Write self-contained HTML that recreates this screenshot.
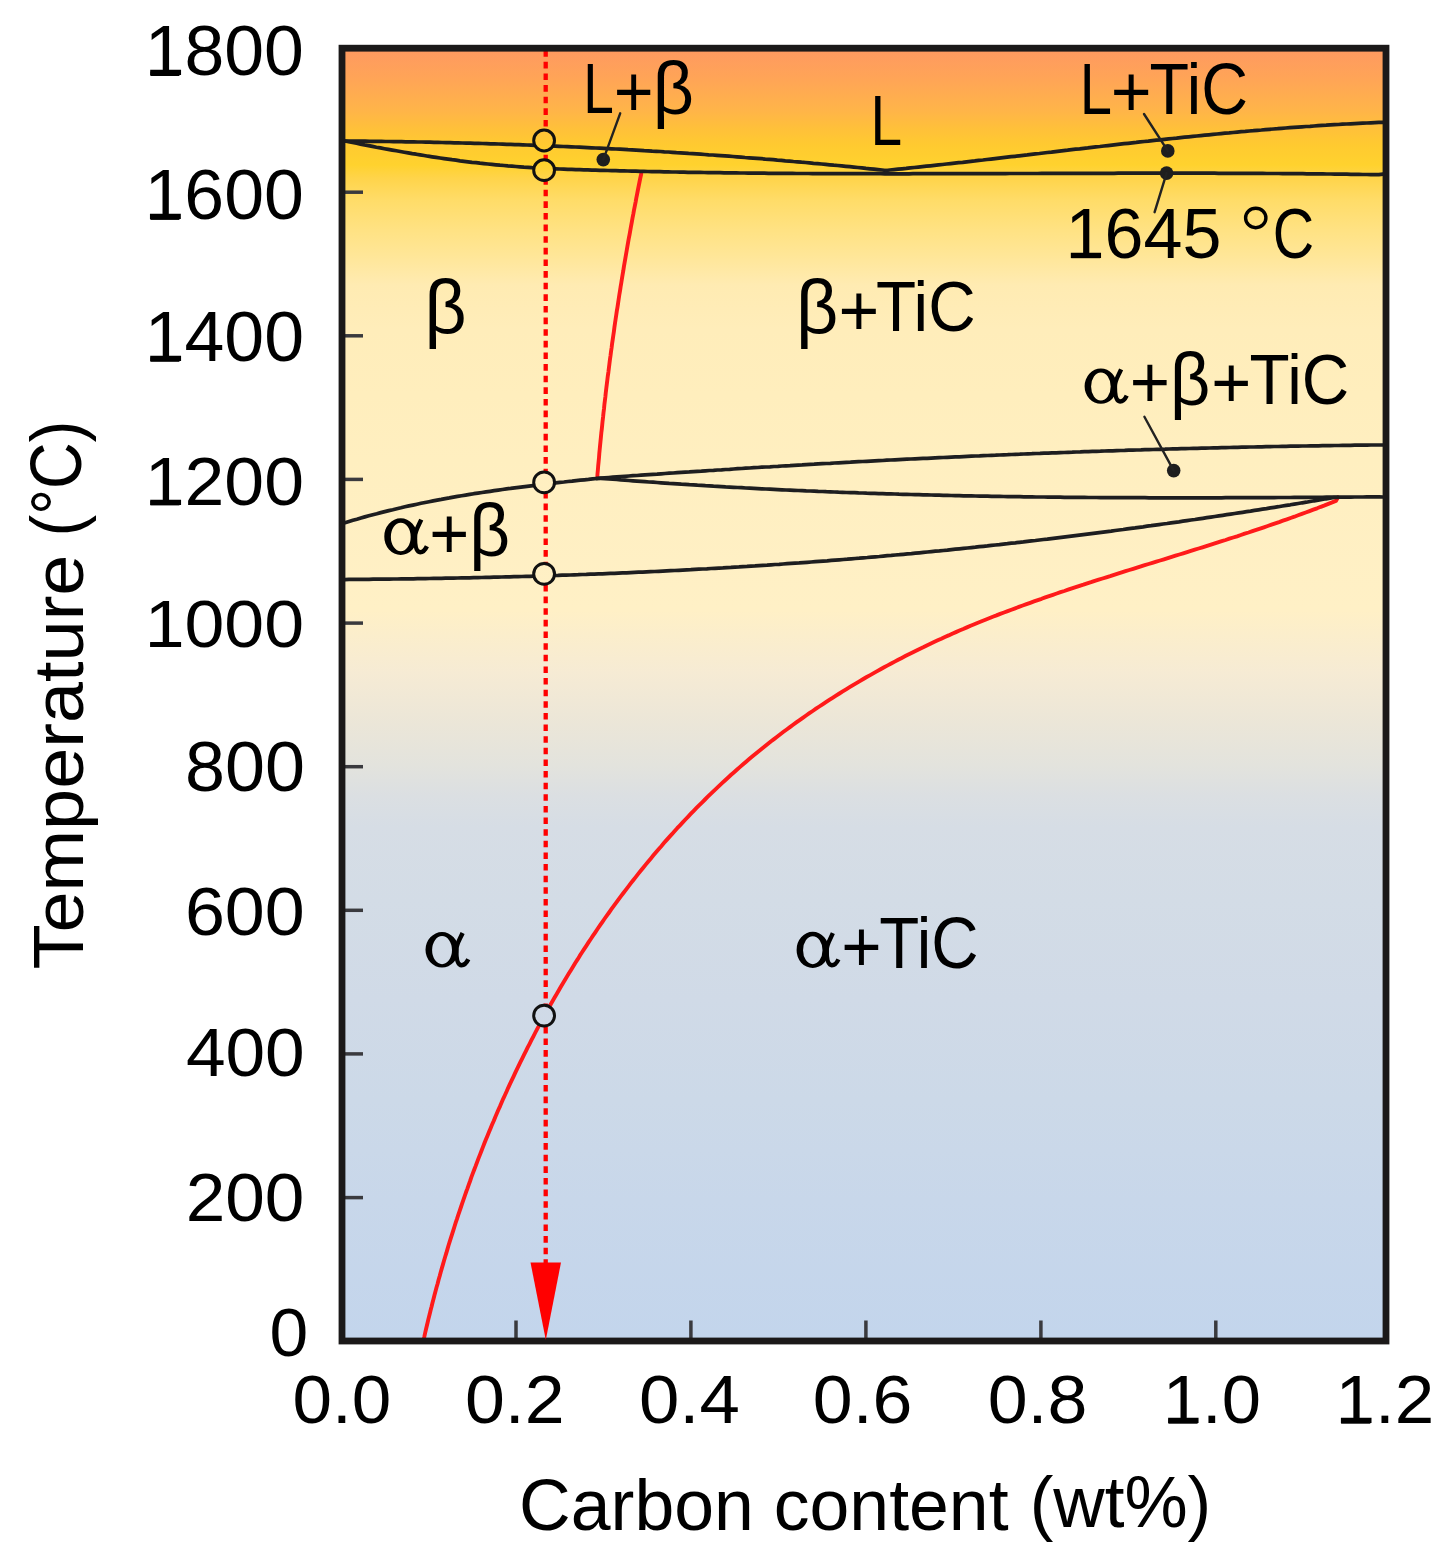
<!DOCTYPE html><html><head><meta charset="utf-8"><style>html,body{margin:0;padding:0;background:#fff;overflow:hidden}svg{display:block}</style></head><body>
<svg width="1447" height="1556" viewBox="0 0 1447 1556" font-family="Liberation Sans, sans-serif">
<defs><linearGradient id="bg" gradientUnits="userSpaceOnUse" x1="0" y1="51" x2="0" y2="1337">
<stop offset="0.0000" stop-color="#FE9A60"/>
<stop offset="0.0226" stop-color="#FFA556"/>
<stop offset="0.0459" stop-color="#FFB449"/>
<stop offset="0.0599" stop-color="#FFC03A"/>
<stop offset="0.0731" stop-color="#FFCA30"/>
<stop offset="0.0886" stop-color="#FFD22E"/>
<stop offset="0.0988" stop-color="#FFD44A"/>
<stop offset="0.1159" stop-color="#FFDC68"/>
<stop offset="0.1392" stop-color="#FFE283"/>
<stop offset="0.1586" stop-color="#FFE697"/>
<stop offset="0.1820" stop-color="#FFEBB2"/>
<stop offset="0.2170" stop-color="#FFEDBA"/>
<stop offset="0.3180" stop-color="#FFEFC0"/>
<stop offset="0.4347" stop-color="#FFF0C6"/>
<stop offset="0.4829" stop-color="#F6EBD4"/>
<stop offset="0.5233" stop-color="#EBE6D8"/>
<stop offset="0.5552" stop-color="#E3E3DD"/>
<stop offset="0.5793" stop-color="#DBDFE2"/>
<stop offset="0.6034" stop-color="#D6DDE5"/>
<stop offset="0.6602" stop-color="#D3DCE6"/>
<stop offset="0.7379" stop-color="#D0DAE7"/>
<stop offset="0.8157" stop-color="#CCD9E8"/>
<stop offset="0.8935" stop-color="#C8D7EA"/>
<stop offset="1.0000" stop-color="#C3D5EC"/>
</linearGradient><clipPath id="plotclip"><rect x="345" y="51" width="1038" height="1287"/></clipPath></defs>
<rect x="344" y="50" width="1040" height="1289" fill="url(#bg)"/>
<path d="M421.2,1345.0 L423.4,1340.7 L424.3,1336.9 L425.1,1333.1 L426.0,1329.3 L426.9,1325.5 L427.8,1321.7 L428.7,1317.9 L429.7,1314.1 L430.6,1310.3 L431.6,1306.5 L432.5,1302.7 L433.5,1298.9 L434.5,1295.1 L435.5,1291.3 L436.5,1287.5 L437.6,1283.7 L438.6,1279.8 L439.7,1276.0 L440.7,1272.2 L441.8,1268.4 L442.9,1264.6 L444.0,1260.8 L445.1,1257.0 L446.3,1253.2 L447.4,1249.4 L448.5,1245.5 L449.7,1241.7 L450.9,1237.9 L452.1,1234.1 L453.3,1230.3 L454.5,1226.5 L455.7,1222.7 L457.0,1218.9 L458.2,1215.1 L459.5,1211.3 L460.8,1207.5 L462.1,1203.7 L463.4,1199.9 L464.7,1196.1 L466.0,1192.3 L467.4,1188.6 L468.7,1184.8 L470.1,1181.0 L471.4,1177.2 L472.8,1173.4 L474.2,1169.7 L475.7,1165.9 L477.1,1162.1 L478.5,1158.4 L480.0,1154.6 L481.5,1150.8 L482.9,1147.1 L484.4,1143.3 L485.9,1139.6 L487.5,1135.8 L489.0,1132.1 L490.5,1128.4 L492.1,1124.6 L493.7,1120.9 L495.2,1117.2 L496.8,1113.5 L498.4,1109.8 L500.1,1106.1 L501.7,1102.3 L503.3,1098.6 L505.0,1095.0 L506.7,1091.3 L508.3,1087.6 L510.0,1083.9 L511.8,1080.2 L513.5,1076.6 L515.2,1072.9 L517.0,1069.2 L518.7,1065.6 L520.5,1061.9 L522.3,1058.3 L524.1,1054.7 L525.9,1051.1 L527.7,1047.4 L529.6,1043.8 L531.4,1040.2 L533.3,1036.6 L535.1,1033.0 L537.0,1029.4 L538.9,1025.9 L540.9,1022.3 L542.8,1018.7 L544.7,1015.2 L546.7,1011.6 L548.7,1008.1 L550.6,1004.5 L552.6,1001.0 L554.6,997.5 L556.7,994.0 L558.7,990.5 L560.7,987.0 L562.8,983.5 L564.9,980.0 L567.0,976.6 L569.1,973.1 L571.2,969.7 L573.3,966.2 L575.4,962.8 L577.6,959.4 L579.7,955.9 L581.9,952.5 L584.1,949.1 L586.3,945.8 L588.5,942.4 L590.8,939.0 L593.0,935.7 L595.3,932.3 L597.5,929.0 L599.8,925.7 L602.1,922.3 L604.4,919.0 L606.8,915.7 L609.1,912.5 L611.4,909.2 L613.8,905.9 L616.2,902.7 L618.6,899.4 L621.0,896.2 L623.4,893.0 L625.8,889.8 L628.3,886.6 L630.7,883.4 L633.2,880.2 L635.7,877.1 L638.2,873.9 L640.7,870.8 L643.2,867.7 L645.7,864.6 L648.3,861.5 L650.9,858.4 L653.4,855.3 L656.0,852.2 L658.6,849.2 L661.3,846.2 L663.9,843.1 L666.5,840.1 L669.2,837.1 L671.9,834.2 L674.5,831.2 L677.2,828.2 L680.0,825.3 L682.7,822.4 L685.4,819.5 L688.2,816.6 L690.9,813.7 L693.7,810.8 L696.5,807.9 L699.3,805.1 L702.2,802.3 L705.0,799.5 L707.8,796.7 L710.7,793.9 L713.6,791.1 L716.5,788.4 L719.4,785.6 L722.3,782.9 L725.2,780.2 L728.2,777.5 L731.1,774.8 L734.1,772.2 L737.1,769.5 L740.1,766.9 L743.1,764.3 L746.1,761.7 L749.2,759.1 L752.2,756.6 L755.3,754.0 L758.4,751.5 L761.5,749.0 L764.6,746.5 L767.7,744.0 L770.8,741.5 L774.0,739.1 L777.1,736.7 L780.3,734.2 L783.5,731.8 L786.7,729.5 L789.9,727.1 L793.1,724.7 L796.3,722.4 L799.6,720.1 L802.8,717.8 L806.1,715.5 L809.4,713.2 L812.7,711.0 L816.0,708.7 L819.3,706.5 L822.6,704.3 L825.9,702.1 L829.3,699.9 L832.6,697.8 L836.0,695.6 L839.4,693.5 L842.7,691.4 L846.1,689.3 L849.6,687.2 L853.0,685.1 L856.4,683.1 L859.8,681.1 L863.3,679.0 L866.7,677.0 L870.2,675.1 L873.7,673.1 L877.2,671.1 L880.6,669.2 L884.1,667.3 L887.7,665.4 L891.2,663.5 L894.7,661.6 L898.2,659.7 L901.8,657.9 L905.3,656.1 L908.9,654.3 L912.5,652.5 L916.0,650.7 L919.6,648.9 L923.2,647.2 L926.8,645.4 L930.4,643.7 L934.0,642.0 L937.7,640.3 L941.3,638.7 L944.9,637.0 L948.6,635.4 L952.2,633.7 L955.9,632.1 L959.5,630.5 L963.2,629.0 L966.9,627.4 L970.6,625.8 L974.3,624.3 L977.9,622.8 L981.6,621.3 L985.4,619.8 L989.1,618.3 L992.8,616.8 L996.5,615.4 L1000.2,613.9 L1004.0,612.5 L1007.7,611.1 L1011.4,609.7 L1015.2,608.3 L1018.9,606.9 L1022.7,605.5 L1026.5,604.1 L1030.2,602.8 L1034.0,601.4 L1037.8,600.1 L1041.6,598.8 L1045.3,597.4 L1049.1,596.1 L1052.9,594.8 L1056.7,593.5 L1060.5,592.2 L1064.3,591.0 L1068.1,589.7 L1071.9,588.4 L1075.7,587.2 L1079.6,585.9 L1083.4,584.7 L1087.2,583.4 L1091.0,582.2 L1094.8,580.9 L1098.7,579.7 L1102.5,578.5 L1106.3,577.3 L1110.2,576.1 L1114.0,574.8 L1117.8,573.6 L1121.7,572.4 L1125.5,571.2 L1129.3,570.0 L1133.2,568.8 L1137.0,567.6 L1140.9,566.4 L1144.7,565.2 L1148.6,564.0 L1152.4,562.9 L1156.3,561.7 L1160.1,560.5 L1164.0,559.3 L1167.8,558.1 L1171.7,556.9 L1175.5,555.7 L1179.4,554.5 L1183.2,553.3 L1187.1,552.1 L1190.9,550.9 L1194.8,549.7 L1198.6,548.5 L1202.5,547.3 L1206.3,546.1 L1210.2,544.9 L1214.0,543.7 L1217.9,542.4 L1221.7,541.2 L1225.6,540.0 L1229.4,538.7 L1233.2,537.5 L1237.1,536.3 L1240.9,535.0 L1244.7,533.7 L1248.6,532.5 L1252.4,531.2 L1256.2,529.9 L1260.1,528.6 L1263.9,527.3 L1267.7,526.0 L1271.5,524.7 L1275.3,523.4 L1279.1,522.1 L1282.9,520.7 L1286.8,519.4 L1290.6,518.0 L1294.4,516.7 L1298.1,515.3 L1301.9,513.9 L1305.7,512.5 L1309.5,511.1 L1313.3,509.7 L1317.1,508.3 L1320.8,506.8 L1324.6,505.4 L1328.4,503.9 L1332.1,502.4 L1335.9,500.9 L1338.0,497.3" fill="none" stroke="#ff1a1a" stroke-width="3.9" stroke-linecap="round" stroke-linejoin="round" clip-path="url(#plotclip)"/>
<path d="M641.2,174.0 L640.3,178.0 L639.5,182.0 L638.7,186.0 L637.9,190.0 L637.1,194.1 L636.3,198.1 L635.6,202.1 L634.8,206.1 L634.0,210.2 L633.3,214.2 L632.5,218.2 L631.8,222.2 L631.0,226.3 L630.3,230.3 L629.6,234.3 L628.8,238.4 L628.1,242.4 L627.4,246.4 L626.7,250.5 L626.0,254.5 L625.3,258.6 L624.6,262.6 L623.9,266.6 L623.3,270.7 L622.6,274.7 L621.9,278.8 L621.3,282.8 L620.6,286.9 L620.0,290.9 L619.3,295.0 L618.7,299.0 L618.1,303.1 L617.5,307.1 L616.8,311.2 L616.2,315.2 L615.6,319.3 L615.0,323.3 L614.4,327.4 L613.9,331.4 L613.3,335.5 L612.7,339.6 L612.1,343.6 L611.6,347.7 L611.0,351.7 L610.5,355.8 L609.9,359.9 L609.4,363.9 L608.9,368.0 L608.4,372.1 L607.8,376.1 L607.3,380.2 L606.8,384.3 L606.3,388.3 L605.8,392.4 L605.4,396.5 L604.9,400.5 L604.4,404.6 L604.0,408.7 L603.5,412.7 L603.1,416.8 L602.6,420.9 L602.2,425.0 L601.8,429.0 L601.3,433.1 L600.9,437.2 L600.5,441.3 L600.1,445.3 L599.7,449.4 L599.3,453.5 L599.0,457.6 L598.6,461.7 L598.2,465.7 L597.9,469.8 L597.5,473.9 L597.3,478.0" fill="none" stroke="#ff1a1a" stroke-width="3.9" stroke-linecap="round" stroke-linejoin="round"/>
<path d="M345.0,141.0 L349.0,141.1 L353.1,141.1 L357.1,141.2 L361.2,141.2 L365.2,141.2 L369.3,141.3 L373.3,141.3 L377.4,141.4 L381.4,141.4 L385.4,141.5 L389.5,141.5 L393.5,141.6 L397.6,141.6 L401.6,141.7 L405.7,141.8 L409.7,141.8 L413.8,141.9 L417.8,142.0 L421.9,142.0 L425.9,142.1 L429.9,142.2 L434.0,142.3 L438.0,142.4 L442.1,142.5 L446.1,142.6 L450.2,142.7 L454.2,142.8 L458.2,142.9 L462.3,143.0 L466.3,143.1 L470.4,143.2 L474.4,143.3 L478.5,143.4 L482.5,143.5 L486.6,143.6 L490.6,143.8 L494.6,143.9 L498.7,144.0 L502.7,144.1 L506.8,144.3 L510.8,144.4 L514.9,144.6 L518.9,144.7 L522.9,144.8 L527.0,145.0 L531.0,145.1 L535.1,145.3 L539.1,145.5 L543.1,145.6 L547.2,145.8 L551.2,145.9 L555.3,146.1 L559.3,146.3 L563.4,146.5 L567.4,146.6 L571.4,146.8 L575.5,147.0 L579.5,147.2 L583.6,147.4 L587.6,147.6 L591.6,147.8 L595.7,148.0 L599.7,148.2 L603.8,148.4 L607.8,148.6 L611.8,148.8 L615.9,149.0 L619.9,149.2 L624.0,149.4 L628.0,149.7 L632.0,149.9 L636.1,150.1 L640.1,150.3 L644.1,150.6 L648.2,150.8 L652.2,151.1 L656.3,151.3 L660.3,151.5 L664.3,151.8 L668.4,152.0 L672.4,152.3 L676.4,152.6 L680.5,152.8 L684.5,153.1 L688.6,153.4 L692.6,153.6 L696.6,153.9 L700.7,154.2 L704.7,154.5 L708.7,154.8 L712.8,155.0 L716.8,155.3 L720.8,155.6 L724.9,155.9 L728.9,156.2 L732.9,156.5 L737.0,156.8 L741.0,157.1 L745.0,157.5 L749.1,157.8 L753.1,158.1 L757.1,158.4 L761.2,158.7 L765.2,159.1 L769.2,159.4 L773.3,159.7 L777.3,160.1 L781.3,160.4 L785.3,160.8 L789.4,161.1 L793.4,161.5 L797.4,161.8 L801.5,162.2 L805.5,162.5 L809.5,162.9 L813.5,163.3 L817.6,163.6 L821.6,164.0 L825.6,164.4 L829.7,164.8 L833.7,165.2 L837.7,165.5 L841.7,165.9 L845.8,166.3 L849.8,166.7 L853.8,167.1 L857.8,167.5 L861.9,167.9 L865.9,168.4 L869.9,168.8 L873.9,169.2 L878.0,169.6 L882.0,170.0 L886.0,170.5" fill="none" stroke="#1e1e20" stroke-width="3.7" stroke-linecap="round" stroke-linejoin="round"/>
<path d="M886.0,170.5 L890.0,170.0 L894.1,169.6 L898.1,169.2 L902.2,168.8 L906.2,168.4 L910.2,167.9 L914.3,167.5 L918.3,167.1 L922.3,166.7 L926.4,166.2 L930.4,165.8 L934.4,165.4 L938.5,164.9 L942.5,164.5 L946.6,164.0 L950.6,163.6 L954.6,163.2 L958.7,162.7 L962.7,162.3 L966.7,161.8 L970.8,161.3 L974.8,160.9 L978.8,160.4 L982.9,160.0 L986.9,159.5 L990.9,159.1 L995.0,158.6 L999.0,158.1 L1003.0,157.7 L1007.1,157.2 L1011.1,156.7 L1015.1,156.3 L1019.2,155.8 L1023.2,155.3 L1027.3,154.9 L1031.3,154.4 L1035.3,153.9 L1039.4,153.5 L1043.4,153.0 L1047.4,152.5 L1051.5,152.1 L1055.5,151.6 L1059.5,151.1 L1063.6,150.6 L1067.6,150.2 L1071.6,149.7 L1075.7,149.2 L1079.7,148.8 L1083.7,148.3 L1087.8,147.9 L1091.8,147.4 L1095.8,146.9 L1099.9,146.5 L1103.9,146.0 L1107.9,145.6 L1112.0,145.1 L1116.0,144.6 L1120.0,144.2 L1124.1,143.7 L1128.1,143.3 L1132.2,142.8 L1136.2,142.4 L1140.2,141.9 L1144.3,141.5 L1148.3,141.1 L1152.3,140.6 L1156.4,140.2 L1160.4,139.8 L1164.4,139.3 L1168.5,138.9 L1172.5,138.5 L1176.6,138.1 L1180.6,137.6 L1184.6,137.2 L1188.7,136.8 L1192.7,136.4 L1196.8,136.0 L1200.8,135.6 L1204.8,135.2 L1208.9,134.8 L1212.9,134.4 L1217.0,134.0 L1221.0,133.6 L1225.0,133.2 L1229.1,132.9 L1233.1,132.5 L1237.2,132.1 L1241.2,131.7 L1245.3,131.4 L1249.3,131.0 L1253.3,130.7 L1257.4,130.3 L1261.4,130.0 L1265.5,129.6 L1269.5,129.3 L1273.6,129.0 L1277.6,128.7 L1281.7,128.3 L1285.7,128.0 L1289.8,127.7 L1293.8,127.4 L1297.9,127.1 L1301.9,126.8 L1306.0,126.5 L1310.0,126.3 L1314.1,126.0 L1318.1,125.7 L1322.2,125.4 L1326.2,125.2 L1330.3,124.9 L1334.3,124.7 L1338.4,124.5 L1342.4,124.2 L1346.5,124.0 L1350.5,123.8 L1354.6,123.6 L1358.6,123.4 L1362.7,123.2 L1366.8,123.0 L1370.8,122.8 L1374.9,122.6 L1378.9,122.4 L1383.0,122.3" fill="none" stroke="#1e1e20" stroke-width="3.7" stroke-linecap="round" stroke-linejoin="round"/>
<path d="M345.0,141.0 L348.6,141.7 L352.6,142.5 L356.6,143.3 L360.5,144.1 L364.5,144.9 L368.5,145.6 L372.4,146.4 L376.4,147.2 L380.4,147.9 L384.4,148.7 L388.3,149.4 L392.3,150.1 L396.3,150.8 L400.3,151.5 L404.3,152.2 L408.2,152.9 L412.2,153.6 L416.2,154.2 L420.2,154.9 L424.1,155.5 L428.1,156.2 L432.1,156.8 L436.1,157.4 L440.1,158.0 L444.1,158.6 L448.0,159.1 L452.0,159.7 L456.0,160.2 L460.0,160.8 L464.0,161.3 L468.0,161.8 L472.0,162.3 L476.0,162.7 L479.9,163.2 L483.9,163.6 L487.9,164.0 L491.9,164.4 L495.9,164.8 L499.9,165.2 L503.9,165.5 L507.9,165.9 L511.9,166.2 L515.9,166.5 L519.9,166.8 L523.9,167.1 L527.9,167.3 L531.8,167.6 L535.8,167.8 L539.8,168.0 L543.8,168.2 L547.8,168.4 L551.8,168.6 L555.8,168.8 L559.8,169.0 L563.8,169.1 L567.8,169.3 L571.8,169.4 L575.8,169.6 L579.8,169.7 L583.8,169.8 L587.8,169.9 L591.8,170.1 L595.8,170.2 L599.8,170.3 L603.9,170.4 L607.9,170.5 L611.9,170.6 L615.9,170.7 L619.9,170.8 L623.9,170.9 L627.9,171.0 L631.9,171.1 L635.9,171.2 L639.9,171.3 L643.9,171.4 L647.9,171.5 L651.9,171.6 L655.9,171.7 L659.9,171.7 L664.0,171.8 L668.0,171.9 L672.0,172.0 L676.0,172.0 L680.0,172.1 L684.0,172.2 L688.0,172.3 L692.0,172.3 L696.0,172.4 L700.1,172.4 L704.1,172.5 L708.1,172.6 L712.1,172.6 L716.1,172.7 L720.1,172.7 L724.1,172.8 L728.2,172.8 L732.2,172.9 L736.2,172.9 L740.2,173.0 L744.2,173.0 L748.2,173.1 L752.2,173.1 L756.3,173.2 L760.3,173.2 L764.3,173.2 L768.3,173.3 L772.3,173.3 L776.3,173.3 L780.4,173.4 L784.4,173.4 L788.4,173.4 L792.4,173.4 L796.4,173.5 L800.5,173.5 L804.5,173.5 L808.5,173.5 L812.5,173.6 L816.5,173.6 L820.6,173.6 L824.6,173.6 L828.6,173.6 L832.6,173.6 L836.6,173.7 L840.6,173.7 L844.7,173.7 L848.7,173.7 L852.7,173.7 L856.7,173.7 L860.8,173.7 L864.8,173.7 L868.8,173.7 L872.8,173.7 L876.8,173.7 L880.9,173.7 L884.9,173.8 L888.9,173.8 L892.9,173.8 L896.9,173.8 L901.0,173.8 L905.0,173.8 L909.0,173.8 L913.0,173.7 L917.1,173.7 L921.1,173.7 L925.1,173.7 L929.1,173.7 L933.1,173.7 L937.2,173.7 L941.2,173.7 L945.2,173.7 L949.2,173.7 L953.3,173.7 L957.3,173.7 L961.3,173.7 L965.3,173.7 L969.3,173.7 L973.4,173.6 L977.4,173.6 L981.4,173.6 L985.4,173.6 L989.5,173.6 L993.5,173.6 L997.5,173.6 L1001.5,173.6 L1005.5,173.6 L1009.6,173.5 L1013.6,173.5 L1017.6,173.5 L1021.6,173.5 L1025.7,173.5 L1029.7,173.5 L1033.7,173.5 L1037.7,173.5 L1041.7,173.4 L1045.8,173.4 L1049.8,173.4 L1053.8,173.4 L1057.8,173.4 L1061.9,173.4 L1065.9,173.4 L1069.9,173.4 L1073.9,173.4 L1077.9,173.3 L1082.0,173.3 L1086.0,173.3 L1090.0,173.3 L1094.0,173.3 L1098.0,173.3 L1102.1,173.3 L1106.1,173.3 L1110.1,173.3 L1114.1,173.3 L1118.1,173.2 L1122.2,173.2 L1126.2,173.2 L1130.2,173.2 L1134.2,173.2 L1138.2,173.2 L1142.2,173.2 L1146.3,173.2 L1150.3,173.2 L1154.3,173.2 L1158.3,173.2 L1162.3,173.2 L1166.3,173.2 L1170.4,173.2 L1174.4,173.2 L1178.4,173.2 L1182.4,173.2 L1186.4,173.2 L1190.4,173.2 L1194.5,173.2 L1198.5,173.2 L1202.5,173.2 L1206.5,173.2 L1210.5,173.2 L1214.5,173.2 L1218.5,173.3 L1222.6,173.3 L1226.6,173.3 L1230.6,173.3 L1234.6,173.3 L1238.6,173.3 L1242.6,173.3 L1246.6,173.4 L1250.6,173.4 L1254.7,173.4 L1258.7,173.4 L1262.7,173.4 L1266.7,173.5 L1270.7,173.5 L1274.7,173.5 L1278.7,173.5 L1282.7,173.6 L1286.7,173.6 L1290.7,173.6 L1294.7,173.7 L1298.7,173.7 L1302.8,173.7 L1306.8,173.8 L1310.8,173.8 L1314.8,173.9 L1318.8,173.9 L1322.8,173.9 L1326.8,174.0 L1330.8,174.0 L1334.8,174.1 L1338.8,174.1 L1342.8,174.2 L1346.8,174.2 L1350.8,174.3 L1354.8,174.3 L1358.8,174.4 L1362.8,174.5 L1366.8,174.5 L1370.8,174.6 L1374.8,174.7 L1378.8,174.7 L1383.0,174.2" fill="none" stroke="#1e1e20" stroke-width="3.7" stroke-linecap="round" stroke-linejoin="round"/>
<path d="M345.0,522.7 L349.0,521.5 L352.9,520.3 L356.9,519.2 L360.9,518.0 L364.8,516.9 L368.8,515.8 L372.8,514.7 L376.8,513.7 L380.8,512.6 L384.8,511.6 L388.8,510.6 L392.8,509.7 L396.8,508.7 L400.9,507.8 L404.9,506.8 L408.9,505.9 L412.9,505.1 L417.0,504.2 L421.0,503.3 L425.1,502.5 L429.1,501.7 L433.2,500.9 L437.2,500.1 L441.3,499.4 L445.3,498.6 L449.4,497.9 L453.4,497.1 L457.5,496.4 L461.6,495.7 L465.6,495.1 L469.7,494.4 L473.8,493.7 L477.9,493.1 L482.0,492.5 L486.0,491.9 L490.1,491.3 L494.2,490.7 L498.3,490.1 L502.4,489.5 L506.5,488.9 L510.6,488.4 L514.7,487.8 L518.8,487.3 L522.9,486.8 L527.0,486.3 L531.0,485.8 L535.1,485.3 L539.2,484.8 L543.4,484.3 L547.5,483.8 L551.6,483.3 L555.7,482.9 L559.8,482.4 L563.9,482.0 L568.0,481.5 L572.1,481.1 L576.2,480.6 L580.3,480.2 L584.4,479.8 L588.5,479.4 L592.6,478.9 L596.7,478.5" fill="none" stroke="#1e1e20" stroke-width="3.7" stroke-linecap="round" stroke-linejoin="round"/>
<path d="M596.7,478.5 L600.7,478.1 L604.7,477.8 L608.8,477.5 L612.8,477.2 L616.8,476.9 L620.8,476.6 L624.9,476.3 L628.9,476.0 L632.9,475.7 L637.0,475.5 L641.0,475.2 L645.0,474.9 L649.0,474.6 L653.1,474.3 L657.1,474.1 L661.1,473.8 L665.1,473.5 L669.2,473.2 L673.2,473.0 L677.2,472.7 L681.2,472.4 L685.3,472.1 L689.3,471.9 L693.3,471.6 L697.4,471.3 L701.4,471.1 L705.4,470.8 L709.4,470.5 L713.5,470.3 L717.5,470.0 L721.5,469.8 L725.6,469.5 L729.6,469.3 L733.6,469.0 L737.6,468.7 L741.7,468.5 L745.7,468.2 L749.7,468.0 L753.8,467.7 L757.8,467.5 L761.8,467.2 L765.8,467.0 L769.9,466.8 L773.9,466.5 L777.9,466.3 L782.0,466.0 L786.0,465.8 L790.0,465.6 L794.1,465.3 L798.1,465.1 L802.1,464.9 L806.1,464.6 L810.2,464.4 L814.2,464.2 L818.2,463.9 L822.3,463.7 L826.3,463.5 L830.3,463.3 L834.4,463.0 L838.4,462.8 L842.4,462.6 L846.4,462.4 L850.5,462.2 L854.5,461.9 L858.5,461.7 L862.6,461.5 L866.6,461.3 L870.6,461.1 L874.7,460.9 L878.7,460.7 L882.7,460.5 L886.8,460.2 L890.8,460.0 L894.8,459.8 L898.8,459.6 L902.9,459.4 L906.9,459.2 L910.9,459.0 L915.0,458.8 L919.0,458.6 L923.0,458.4 L927.1,458.3 L931.1,458.1 L935.1,457.9 L939.2,457.7 L943.2,457.5 L947.2,457.3 L951.3,457.1 L955.3,456.9 L959.3,456.8 L963.4,456.6 L967.4,456.4 L971.4,456.2 L975.5,456.0 L979.5,455.9 L983.5,455.7 L987.6,455.5 L991.6,455.3 L995.6,455.2 L999.7,455.0 L1003.7,454.8 L1007.7,454.7 L1011.8,454.5 L1015.8,454.3 L1019.8,454.2 L1023.9,454.0 L1027.9,453.8 L1031.9,453.7 L1036.0,453.5 L1040.0,453.4 L1044.0,453.2 L1048.1,453.1 L1052.1,452.9 L1056.1,452.8 L1060.2,452.6 L1064.2,452.5 L1068.2,452.3 L1072.3,452.2 L1076.3,452.0 L1080.3,451.9 L1084.4,451.7 L1088.4,451.6 L1092.4,451.4 L1096.5,451.3 L1100.5,451.2 L1104.5,451.0 L1108.6,450.9 L1112.6,450.8 L1116.6,450.6 L1120.7,450.5 L1124.7,450.4 L1128.7,450.2 L1132.8,450.1 L1136.8,450.0 L1140.9,449.9 L1144.9,449.7 L1148.9,449.6 L1153.0,449.5 L1157.0,449.4 L1161.0,449.3 L1165.1,449.2 L1169.1,449.0 L1173.1,448.9 L1177.2,448.8 L1181.2,448.7 L1185.2,448.6 L1189.3,448.5 L1193.3,448.4 L1197.3,448.3 L1201.4,448.2 L1205.4,448.1 L1209.5,448.0 L1213.5,447.9 L1217.5,447.8 L1221.6,447.7 L1225.6,447.6 L1229.6,447.5 L1233.7,447.4 L1237.7,447.3 L1241.7,447.2 L1245.8,447.1 L1249.8,447.0 L1253.8,447.0 L1257.9,446.9 L1261.9,446.8 L1265.9,446.7 L1270.0,446.6 L1274.0,446.5 L1278.1,446.5 L1282.1,446.4 L1286.1,446.3 L1290.2,446.2 L1294.2,446.2 L1298.2,446.1 L1302.3,446.0 L1306.3,446.0 L1310.3,445.9 L1314.4,445.8 L1318.4,445.8 L1322.5,445.7 L1326.5,445.6 L1330.5,445.6 L1334.6,445.5 L1338.6,445.5 L1342.6,445.4 L1346.7,445.3 L1350.7,445.3 L1354.7,445.2 L1358.8,445.2 L1362.8,445.1 L1366.9,445.1 L1370.9,445.0 L1374.9,445.0 L1379.0,445.0 L1383.0,445.0" fill="none" stroke="#1e1e20" stroke-width="3.7" stroke-linecap="round" stroke-linejoin="round"/>
<path d="M596.7,478.5 L600.7,478.3 L604.8,478.6 L608.8,478.9 L612.8,479.2 L616.8,479.5 L620.9,479.9 L624.9,480.2 L628.9,480.5 L632.9,480.8 L637.0,481.1 L641.0,481.4 L645.0,481.7 L649.0,482.0 L653.1,482.2 L657.1,482.5 L661.1,482.8 L665.1,483.1 L669.2,483.4 L673.2,483.6 L677.2,483.9 L681.3,484.2 L685.3,484.4 L689.3,484.7 L693.3,484.9 L697.4,485.2 L701.4,485.4 L705.4,485.7 L709.4,485.9 L713.5,486.2 L717.5,486.4 L721.5,486.6 L725.6,486.9 L729.6,487.1 L733.6,487.3 L737.6,487.5 L741.7,487.7 L745.7,488.0 L749.7,488.2 L753.8,488.4 L757.8,488.6 L761.8,488.8 L765.9,489.0 L769.9,489.2 L773.9,489.4 L777.9,489.6 L782.0,489.8 L786.0,490.0 L790.0,490.1 L794.1,490.3 L798.1,490.5 L802.1,490.7 L806.2,490.9 L810.2,491.0 L814.2,491.2 L818.2,491.4 L822.3,491.5 L826.3,491.7 L830.3,491.8 L834.4,492.0 L838.4,492.2 L842.4,492.3 L846.5,492.5 L850.5,492.6 L854.5,492.7 L858.6,492.9 L862.6,493.0 L866.6,493.2 L870.6,493.3 L874.7,493.4 L878.7,493.6 L882.7,493.7 L886.8,493.8 L890.8,493.9 L894.8,494.0 L898.9,494.2 L902.9,494.3 L906.9,494.4 L911.0,494.5 L915.0,494.6 L919.0,494.7 L923.1,494.8 L927.1,494.9 L931.1,495.0 L935.2,495.1 L939.2,495.2 L943.2,495.3 L947.3,495.4 L951.3,495.5 L955.3,495.6 L959.4,495.7 L963.4,495.8 L967.4,495.8 L971.5,495.9 L975.5,496.0 L979.5,496.1 L983.6,496.2 L987.6,496.2 L991.6,496.3 L995.7,496.4 L999.7,496.4 L1003.7,496.5 L1007.8,496.6 L1011.8,496.6 L1015.8,496.7 L1019.9,496.7 L1023.9,496.8 L1027.9,496.8 L1032.0,496.9 L1036.0,497.0 L1040.0,497.0 L1044.1,497.0 L1048.1,497.1 L1052.1,497.1 L1056.2,497.2 L1060.2,497.2 L1064.3,497.3 L1068.3,497.3 L1072.3,497.3 L1076.4,497.4 L1080.4,497.4 L1084.4,497.4 L1088.5,497.5 L1092.5,497.5 L1096.5,497.5 L1100.6,497.6 L1104.6,497.6 L1108.6,497.6 L1112.7,497.6 L1116.7,497.6 L1120.7,497.7 L1124.8,497.7 L1128.8,497.7 L1132.8,497.7 L1136.9,497.7 L1140.9,497.7 L1144.9,497.7 L1149.0,497.8 L1153.0,497.8 L1157.1,497.8 L1161.1,497.8 L1165.1,497.8 L1169.2,497.8 L1173.2,497.8 L1177.2,497.8 L1181.3,497.8 L1185.3,497.8 L1189.3,497.8 L1193.4,497.8 L1197.4,497.8 L1201.4,497.8 L1205.5,497.8 L1209.5,497.8 L1213.5,497.8 L1217.6,497.8 L1221.6,497.8 L1225.6,497.7 L1229.7,497.7 L1233.7,497.7 L1237.8,497.7 L1241.8,497.7 L1245.8,497.7 L1249.9,497.7 L1253.9,497.6 L1257.9,497.6 L1262.0,497.6 L1266.0,497.6 L1270.0,497.6 L1274.1,497.6 L1278.1,497.5 L1282.1,497.5 L1286.2,497.5 L1290.2,497.5 L1294.2,497.4 L1298.3,497.4 L1302.3,497.4 L1306.3,497.4 L1310.4,497.3 L1314.4,497.3 L1318.4,497.3 L1322.5,497.3 L1326.5,497.2 L1330.6,497.2 L1334.6,497.2 L1338.6,497.2 L1342.7,497.1 L1346.7,497.1 L1350.7,497.1 L1354.8,497.0 L1358.8,497.0 L1362.8,497.0 L1366.9,496.9 L1370.9,496.9 L1374.9,496.9 L1379.0,496.8 L1383.0,497.0" fill="none" stroke="#1e1e20" stroke-width="3.7" stroke-linecap="round" stroke-linejoin="round"/>
<path d="M345.0,579.6 L349.0,579.4 L353.0,579.4 L357.0,579.4 L361.1,579.3 L365.1,579.3 L369.1,579.3 L373.1,579.2 L377.2,579.2 L381.2,579.1 L385.2,579.1 L389.2,579.1 L393.3,579.0 L397.3,579.0 L401.3,578.9 L405.3,578.9 L409.3,578.8 L413.4,578.8 L417.4,578.7 L421.4,578.6 L425.4,578.6 L429.5,578.5 L433.5,578.4 L437.5,578.4 L441.5,578.3 L445.6,578.2 L449.6,578.2 L453.6,578.1 L457.6,578.0 L461.6,577.9 L465.7,577.9 L469.7,577.8 L473.7,577.7 L477.7,577.6 L481.8,577.5 L485.8,577.4 L489.8,577.3 L493.8,577.2 L497.8,577.1 L501.9,577.0 L505.9,576.9 L509.9,576.8 L513.9,576.7 L518.0,576.6 L522.0,576.5 L526.0,576.4 L530.0,576.3 L534.0,576.1 L538.1,576.0 L542.1,575.9 L546.1,575.8 L550.1,575.6 L554.1,575.5 L558.2,575.4 L562.2,575.2 L566.2,575.1 L570.2,575.0 L574.2,574.8 L578.3,574.7 L582.3,574.5 L586.3,574.4 L590.3,574.2 L594.3,574.1 L598.4,573.9 L602.4,573.8 L606.4,573.6 L610.4,573.4 L614.4,573.3 L618.5,573.1 L622.5,572.9 L626.5,572.8 L630.5,572.6 L634.5,572.4 L638.6,572.2 L642.6,572.1 L646.6,571.9 L650.6,571.7 L654.6,571.5 L658.6,571.3 L662.7,571.1 L666.7,570.9 L670.7,570.7 L674.7,570.5 L678.7,570.3 L682.7,570.1 L686.8,569.9 L690.8,569.7 L694.8,569.4 L698.8,569.2 L702.8,569.0 L706.8,568.8 L710.9,568.5 L714.9,568.3 L718.9,568.1 L722.9,567.9 L726.9,567.6 L730.9,567.4 L734.9,567.1 L739.0,566.9 L743.0,566.6 L747.0,566.4 L751.0,566.1 L755.0,565.9 L759.0,565.6 L763.0,565.3 L767.1,565.1 L771.1,564.8 L775.1,564.5 L779.1,564.3 L783.1,564.0 L787.1,563.7 L791.1,563.4 L795.1,563.1 L799.2,562.9 L803.2,562.6 L807.2,562.3 L811.2,562.0 L815.2,561.7 L819.2,561.4 L823.2,561.1 L827.2,560.8 L831.2,560.4 L835.2,560.1 L839.3,559.8 L843.3,559.5 L847.3,559.2 L851.3,558.8 L855.3,558.5 L859.3,558.2 L863.3,557.8 L867.3,557.5 L871.3,557.1 L875.3,556.8 L879.3,556.5 L883.3,556.1 L887.3,555.7 L891.3,555.4 L895.4,555.0 L899.4,554.7 L903.4,554.3 L907.4,553.9 L911.4,553.6 L915.4,553.2 L919.4,552.8 L923.4,552.4 L927.4,552.0 L931.4,551.6 L935.4,551.2 L939.4,550.9 L943.4,550.5 L947.4,550.1 L951.4,549.6 L955.4,549.2 L959.4,548.8 L963.4,548.4 L967.4,548.0 L971.4,547.6 L975.4,547.2 L979.4,546.7 L983.4,546.3 L987.4,545.9 L991.4,545.4 L995.4,545.0 L999.4,544.6 L1003.4,544.1 L1007.4,543.7 L1011.4,543.2 L1015.4,542.8 L1019.4,542.3 L1023.4,541.9 L1027.4,541.4 L1031.4,540.9 L1035.4,540.5 L1039.4,540.0 L1043.4,539.5 L1047.3,539.1 L1051.3,538.6 L1055.3,538.1 L1059.3,537.6 L1063.3,537.1 L1067.3,536.6 L1071.3,536.1 L1075.3,535.6 L1079.3,535.1 L1083.3,534.6 L1087.3,534.1 L1091.3,533.6 L1095.3,533.1 L1099.2,532.6 L1103.2,532.1 L1107.2,531.6 L1111.2,531.1 L1115.2,530.5 L1119.2,530.0 L1123.2,529.5 L1127.2,528.9 L1131.1,528.4 L1135.1,527.9 L1139.1,527.3 L1143.1,526.8 L1147.1,526.2 L1151.1,525.7 L1155.1,525.1 L1159.0,524.6 L1163.0,524.0 L1167.0,523.5 L1171.0,522.9 L1175.0,522.3 L1179.0,521.8 L1182.9,521.2 L1186.9,520.6 L1190.9,520.0 L1194.9,519.5 L1198.9,518.9 L1202.8,518.3 L1206.8,517.7 L1210.8,517.1 L1214.8,516.5 L1218.8,515.9 L1222.7,515.3 L1226.7,514.7 L1230.7,514.1 L1234.7,513.5 L1238.6,512.9 L1242.6,512.3 L1246.6,511.7 L1250.6,511.1 L1254.5,510.4 L1258.5,509.8 L1262.5,509.2 L1266.5,508.6 L1270.4,507.9 L1274.4,507.3 L1278.4,506.7 L1282.4,506.0 L1286.3,505.4 L1290.3,504.8 L1294.3,504.1 L1298.2,503.5 L1302.2,502.8 L1306.2,502.2 L1310.1,501.5 L1314.1,500.8 L1318.1,500.2 L1322.0,499.5 L1326.0,498.8 L1330.0,498.2 L1333.9,497.5 L1338.0,497.5" fill="none" stroke="#1e1e20" stroke-width="3.7" stroke-linecap="round" stroke-linejoin="round"/>
<line x1="344" y1="1197.6" x2="363" y2="1197.6" stroke="#3a3a3e" stroke-width="3.5"/>
<line x1="344" y1="1053.9" x2="363" y2="1053.9" stroke="#3a3a3e" stroke-width="3.5"/>
<line x1="344" y1="910.3" x2="363" y2="910.3" stroke="#3a3a3e" stroke-width="3.5"/>
<line x1="344" y1="766.7" x2="363" y2="766.7" stroke="#3a3a3e" stroke-width="3.5"/>
<line x1="344" y1="623.1" x2="363" y2="623.1" stroke="#3a3a3e" stroke-width="3.5"/>
<line x1="344" y1="479.4" x2="363" y2="479.4" stroke="#3a3a3e" stroke-width="3.5"/>
<line x1="344" y1="335.8" x2="363" y2="335.8" stroke="#3a3a3e" stroke-width="3.5"/>
<line x1="344" y1="192.2" x2="363" y2="192.2" stroke="#3a3a3e" stroke-width="3.5"/>
<line x1="516.0" y1="1338" x2="516.0" y2="1320.5" stroke="#3a3a3e" stroke-width="3.5"/>
<line x1="690.9" y1="1338" x2="690.9" y2="1320.5" stroke="#3a3a3e" stroke-width="3.5"/>
<line x1="865.9" y1="1338" x2="865.9" y2="1320.5" stroke="#3a3a3e" stroke-width="3.5"/>
<line x1="1040.9" y1="1338" x2="1040.9" y2="1320.5" stroke="#3a3a3e" stroke-width="3.5"/>
<line x1="1215.8" y1="1338" x2="1215.8" y2="1320.5" stroke="#3a3a3e" stroke-width="3.5"/>
<line x1="545.7" y1="50" x2="545.7" y2="1263" stroke="#ff0000" stroke-width="4.3" stroke-dasharray="6.6 5.026" stroke-dashoffset="-0.2"/>
<circle cx="544.1" cy="140.5" r="10.4" fill="url(#bg)" stroke="#111" stroke-width="3"/>
<circle cx="544.1" cy="170.2" r="10.4" fill="url(#bg)" stroke="#111" stroke-width="3"/>
<circle cx="544.1" cy="482.4" r="10.4" fill="url(#bg)" stroke="#111" stroke-width="3"/>
<circle cx="544.1" cy="573.9" r="10.4" fill="url(#bg)" stroke="#111" stroke-width="3"/>
<circle cx="544.1" cy="1015.6" r="10.4" fill="url(#bg)" stroke="#111" stroke-width="3"/>
<circle cx="603.3" cy="159.6" r="6.8" fill="#1e1e1e"/>
<circle cx="1167.8" cy="150.9" r="6.8" fill="#1e1e1e"/>
<circle cx="1166.6" cy="173.1" r="6.8" fill="#1e1e1e"/>
<circle cx="1173.7" cy="470.6" r="6.8" fill="#1e1e1e"/>
<line x1="620.2" y1="113.3" x2="603.3" y2="159.6" stroke="#222" stroke-width="2.4" stroke-linecap="round"/>
<line x1="1144" y1="114" x2="1167.8" y2="150.9" stroke="#222" stroke-width="2.4" stroke-linecap="round"/>
<line x1="1166.6" y1="173.1" x2="1154.6" y2="212.2" stroke="#222" stroke-width="2.4" stroke-linecap="round"/>
<line x1="1144.4" y1="416.8" x2="1173.7" y2="470.6" stroke="#222" stroke-width="2.4" stroke-linecap="round"/>
<rect x="342" y="48.2" width="1044" height="1292.8" fill="none" stroke="#1b1919" stroke-width="6.8"/>
<polygon points="530.5,1262.5 561,1262.5 545.8,1340" fill="#ff0000"/>
<text transform="matrix(0.7157 0 0 0.7008 144.67 75.41)" font-size="100" fill="#000">1800</text>
<text transform="matrix(0.7167 0 0 0.7022 144.47 219.41)" font-size="100" fill="#000">1600</text>
<text transform="matrix(0.7162 0 0 0.6965 144.67 361.32)" font-size="100" fill="#000">1400</text>
<text transform="matrix(0.7162 0 0 0.6810 144.67 504.93)" font-size="100" fill="#000">1200</text>
<text transform="matrix(0.7162 0 0 0.6697 144.67 646.54)" font-size="100" fill="#000">1000</text>
<text transform="matrix(0.7189 0 0 0.6965 185.12 791.32)" font-size="100" fill="#000">800</text>
<text transform="matrix(0.7184 0 0 0.6796 184.91 934.63)" font-size="100" fill="#000">600</text>
<text transform="matrix(0.7124 0 0 0.6852 185.88 1076.13)" font-size="100" fill="#000">400</text>
<text transform="matrix(0.7114 0 0 0.6895 185.74 1220.72)" font-size="100" fill="#000">200</text>
<text transform="matrix(0.6958 0 0 0.6866 269.62 1355.63)" font-size="100" fill="#000">0</text>
<rect x="150.4" y="71.6" width="29.0" height="4.4" fill="#000"/>
<rect x="150.4" y="215.5" width="29.0" height="4.4" fill="#000"/>
<rect x="150.4" y="357.4" width="29.0" height="4.4" fill="#000"/>
<rect x="150.4" y="501.0" width="29.0" height="4.4" fill="#000"/>
<rect x="150.4" y="642.6" width="29.0" height="4.4" fill="#000"/>
<rect x="1168.4" y="1419.3" width="29.2" height="4.4" fill="#000"/>
<rect x="1341.1" y="1419.3" width="29.2" height="4.4" fill="#000"/>
<rect x="1071.2" y="253.8" width="29.0" height="4.4" fill="#000"/>
<text transform="matrix(0.7107 0 0 0.6838 292.46 1423.33)" font-size="100" fill="#000">0.0</text>
<text transform="matrix(0.7169 0 0 0.6838 464.93 1423.33)" font-size="100" fill="#000">0.2</text>
<text transform="matrix(0.7258 0 0 0.6838 638.90 1423.33)" font-size="100" fill="#000">0.4</text>
<text transform="matrix(0.7168 0 0 0.6838 812.83 1423.33)" font-size="100" fill="#000">0.6</text>
<text transform="matrix(0.7176 0 0 0.6838 987.63 1423.33)" font-size="100" fill="#000">0.8</text>
<text transform="matrix(0.7063 0 0 0.6838 1162.75 1423.33)" font-size="100" fill="#000">1.0</text>
<text transform="matrix(0.7103 0 0 0.6838 1335.42 1423.33)" font-size="100" fill="#000">1.2</text>
<text transform="matrix(0.5500 0 0 0.7049 583.20 113.30)" font-size="100" fill="#000">L</text>
<text transform="matrix(0.6833 0 0 0.7224 613.78 116.20)" font-size="100" fill="#000">+</text>
<text transform="matrix(0.7170 0 0 0.7457 652.68 113.84)" font-size="100" fill="#000">β</text>
<text transform="matrix(0.5682 0 0 0.7035 870.45 145.40)" font-size="100" fill="#000">L</text>
<text transform="matrix(0.5795 0 0 0.7151 1079.66 113.50)" font-size="100" fill="#000">L</text>
<text transform="matrix(0.7000 0 0 0.7224 1110.70 116.20)" font-size="100" fill="#000">+</text>
<text transform="matrix(0.6476 0 0 0.7151 1149.60 113.50)" font-size="100" fill="#000">TiC</text>
<text transform="matrix(0.7005 0 0 0.6965 1065.60 257.72)" font-size="100" fill="#000">1645</text>
<ellipse cx="1255.75" cy="217.95" rx="10.15" ry="9.75" fill="none" stroke="#000" stroke-width="3.4"/>
<text transform="matrix(0.5730 0 0 0.6965 1272.73 257.72)" font-size="100" fill="#000">C</text>
<text transform="matrix(0.7319 0 0 0.7638 424.58 332.66)" font-size="100" fill="#000">β</text>
<text transform="matrix(0.7362 0 0 0.7543 796.05 332.96)" font-size="100" fill="#000">β</text>
<text transform="matrix(0.6979 0 0 0.7245 838.51 334.52)" font-size="100" fill="#000">+</text>
<text transform="matrix(0.6566 0 0 0.7049 875.89 331.30)" font-size="100" fill="#000">TiC</text>
<path d="M1084.60,386.15 A16.24,17.65 0 1,0 1117.08,386.15 A16.24,17.65 0 1,0 1084.60,386.15 Z M1091.09,386.45 A9.79,14.06 0 1,0 1110.68,386.45 A9.79,14.06 0 1,0 1091.09,386.45 Z" fill="#000" fill-rule="evenodd"/><path d="M1121.11,369.40 C1118.06,376.38 1114.91,380.37 1114.91,386.35 C1114.91,393.33 1115.40,401.51 1120.03,401.51 C1122.98,401.51 1125.25,398.82 1126.72,395.62" fill="none" stroke="#000" stroke-width="4.36" stroke-linecap="butt"/>
<text transform="matrix(0.6896 0 0 0.7367 1129.65 407.93)" font-size="100" fill="#000">+</text>
<text transform="matrix(0.7000 0 0 0.7479 1170.10 405.29)" font-size="100" fill="#000">β</text>
<text transform="matrix(0.6854 0 0 0.7245 1211.37 407.02)" font-size="100" fill="#000">+</text>
<text transform="matrix(0.6566 0 0 0.7049 1249.49 404.20)" font-size="100" fill="#000">TiC</text>
<path d="M384.30,536.60 A16.43,17.90 0 1,0 417.15,536.60 A16.43,17.90 0 1,0 384.30,536.60 Z M390.87,536.90 A9.90,14.26 0 1,0 410.68,536.90 A9.90,14.26 0 1,0 390.87,536.90 Z" fill="#000" fill-rule="evenodd"/><path d="M421.23,519.61 C418.14,526.69 414.96,530.74 414.96,536.80 C414.96,543.88 415.46,552.17 420.14,552.17 C423.13,552.17 425.41,549.45 426.91,546.21" fill="none" stroke="#000" stroke-width="4.41" stroke-linecap="butt"/>
<text transform="matrix(0.6854 0 0 0.7204 429.17 558.08)" font-size="100" fill="#000">+</text>
<text transform="matrix(0.7106 0 0 0.7457 469.23 556.24)" font-size="100" fill="#000">β</text>
<path d="M425.50,949.80 A16.50,17.70 0 1,0 458.50,949.80 A16.50,17.70 0 1,0 425.50,949.80 Z M432.10,950.10 A9.95,14.10 0 1,0 452.00,950.10 A9.95,14.10 0 1,0 432.10,950.10 Z" fill="#000" fill-rule="evenodd"/><path d="M462.60,933.00 C459.50,940.00 456.30,944.00 456.30,950.00 C456.30,957.00 456.80,965.20 461.50,965.20 C464.50,965.20 466.80,962.50 468.30,959.30" fill="none" stroke="#000" stroke-width="4.40" stroke-linecap="butt"/>
<path d="M796.60,949.90 A16.13,17.60 0 1,0 828.85,949.90 A16.13,17.60 0 1,0 796.60,949.90 Z M803.05,950.20 A9.72,14.02 0 1,0 822.50,950.20 A9.72,14.02 0 1,0 803.05,950.20 Z" fill="#000" fill-rule="evenodd"/><path d="M832.86,933.19 C829.83,940.16 826.70,944.13 826.70,950.10 C826.70,957.06 827.19,965.21 831.79,965.21 C834.72,965.21 836.97,962.53 838.43,959.35" fill="none" stroke="#000" stroke-width="4.34" stroke-linecap="butt"/>
<text transform="matrix(0.6917 0 0 0.7204 841.14 970.58)" font-size="100" fill="#000">+</text>
<text transform="matrix(0.6545 0 0 0.7151 879.19 967.70)" font-size="100" fill="#000">TiC</text>
<text transform="matrix(0.7158 0 0 0.7180 519.12 1529.70)" font-size="100" fill="#000">Carbon content</text>
<text transform="matrix(0.7111 0 0 0.7264 1029.63 1527.36)" font-size="100" fill="#000">(wt%)</text>
<text transform="matrix(0 -0.7391 0.7122 0 82.90 969.48)" font-size="100" fill="#000">Temperature</text>
<text transform="matrix(0 -0.6455 0.7275 0 81.24 536.27)" font-size="100" fill="#000">(°C)</text>
</svg></body></html>
